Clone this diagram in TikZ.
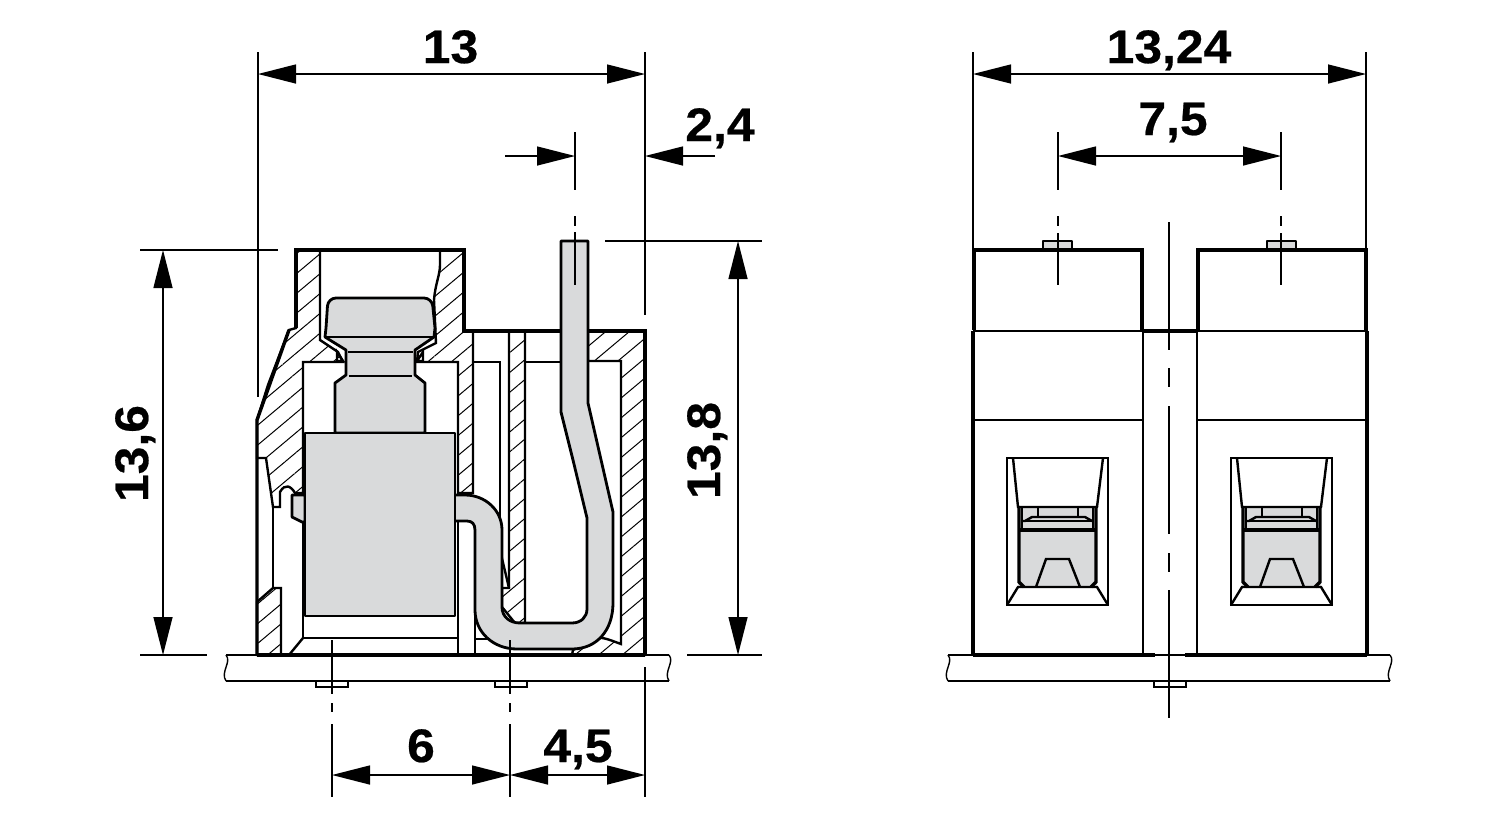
\documentclass[tikz,border=0pt]{standalone}
\usepackage{fontspec}
\setmainfont{Liberation Sans}[BoldFeatures={FakeStretch=1.06,FakeBold=0.5}]
\usetikzlibrary{arrows.meta,patterns.meta}
\definecolor{partgray}{HTML}{D9DADB}
\begin{document}
\begin{tikzpicture}[
          x=0.5pt, y=-0.5pt,
          wall-ln/.style = {line width=1.7pt, line join=miter},
          mid-ln/.style = {line width=1.2pt},
          thin-ln/.style = {line width=0.7pt},
          dim-ln/.style = {line width=0.7pt},
          hatch-area/.style = {pattern={Lines[angle=40,distance=7.6pt,line width=0.5pt]}, pattern color=black},
          gray-part/.style = {fill=partgray, draw=black, line width=1.4pt, line join=round},
          dim-arr/.style = {dim-ln, {Triangle[length=19pt,width=9.5pt]}-{Triangle[length=19pt,width=9.5pt]}},
          size-lbl/.style = {font=\fontsize{23.5}{23.5}\selectfont\bfseries, inner sep=0pt, anchor=base}
        ]
          \useasboundingbox (0,0) rectangle (1500,820);

          % left view: housing
          \draw[hatch-area, mid-ln] (296,250) -- (320,250) -- (320,340) -- (338,352) -- (343,362) -- (303,362) -- (303,493) -- (295,493) .. controls (291,486) and (285,483) .. (280,492) -- (280,507) -- (273,507) -- (266,458) -- (257,458) -- (257,420) -- (268,385) -- (289,330) -- (296,328) -- cycle;
          \draw[hatch-area, mid-ln] (440,250) -- (464,250) -- (464,331) -- (473,331) -- (473,493) -- (458,493) -- (458,362) -- (417,362) -- (418,352) -- (436,343) -- (434,300) .. controls (435,285) and (440,275) .. (440,265) -- cycle;
          \draw[hatch-area, mid-ln] (509,331) -- (525,331) -- (525,623) -- (515,623) -- (502,607) -- (502,588) -- (509,588) -- cycle;
          \draw[hatch-area, mid-ln] (588,361) -- (621,361) -- (621,644) .. controls (610,640) and (603,637) .. (597,638) -- (573,650) -- (572,655) -- (645,655) -- (645,331) -- (588,331) -- cycle;
          \draw[hatch-area, mid-ln] (257,602) -- (273,588) -- (281,588) -- (281,655) -- (257,655) -- cycle;

          \draw[wall-ln] (296,328) -- (296,250) -- (464,250) -- (464,331) -- (645,331) -- (645,655);
          \draw[wall-ln] (289,330) -- (257,420) -- (257,655);
          \draw[mid-ln] (273,507) -- (273,588);
          \draw[mid-ln] (303,493) -- (303,638) -- (458,638);
          \draw[mid-ln] (303,638) -- (289,655);
          \draw[mid-ln] (458,493) -- (458,655);
          \draw[mid-ln] (475,530) -- (475,655);
          \draw[mid-ln] (475,639) -- (493,639);
          \draw[mid-ln] (473,362) -- (500,362) -- (500,575);
          \draw[mid-ln] (500,550) -- (509,588);
          \draw[mid-ln] (525,362) -- (561,362);
          \draw[mid-ln] (337,352) -- (343,361) -- (337,361) -- cycle;
          \draw[mid-ln] (423,352) -- (417,361) -- (423,361) -- cycle;

          % left view: plate
          \draw[mid-ln] (226,655) -- (669,655);
          \draw[wall-ln] (257,655) -- (645,655);
          \draw[mid-ln] (226,681) -- (669,681);
          \draw[thin-ln] (226,655) .. controls (232,662) and (220,672) .. (226,681);
          \draw[thin-ln] (669,655) .. controls (675,662) and (663,672) .. (669,681);
          \draw[mid-ln] (316,681) -- (316,687) -- (348,687) -- (348,681);
          \draw[mid-ln] (495,681) -- (495,687) -- (527,687) -- (527,681);

          % left view: gray parts
          \draw[gray-part] (335,433) -- (335,383) -- (346,375) -- (346,350) -- (325,337) -- (326,328) [rounded corners=4pt] -- (328,298) -- (432,298) [sharp corners] -- (435,328) -- (434,337) -- (415,350) -- (415,375) -- (425,383) -- (425,433) -- cycle;
          \draw[mid-ln] (326,337) -- (434,337);
          \draw[thin-ln] (348,352) -- (413,352);
          \draw[thin-ln] (349,376) -- (412,376);
          \draw[gray-part] (292,495) -- (305,495) -- (305,522) -- (302,522) -- (292,517) -- cycle;
          \draw[gray-part] (455,495) -- (465,495) .. controls (485,495) and (502,510) .. (502,530) -- (502,607) .. controls (502,617) and (510,623) .. (520,623) -- (572,623) .. controls (581,623) and (587,617) .. (587,609) -- (587,518) -- (573,460) -- (561,412) -- (561,241) -- (588,241) -- (588,403) -- (613,512) -- (613,603) .. controls (613,630) and (597,649) .. (572,649) -- (517,649) .. controls (493,649) and (475,632) .. (475,610) -- (475,530) .. controls (475,524) and (472,521) .. (467,521) -- (455,521);
          \draw[gray-part] (305,433) rectangle (455,616);

          % left view: sizes
          \coordinate (w-a) at (258,74);
          \coordinate (w-b) at (645,74);
          \coordinate (w-a-up) at (258,52);
          \coordinate (w-a-dn) at (258,397);
          \coordinate (w-b-up) at (645,52);
          \coordinate (w-b-dn) at (645,315);
          \draw[dim-arr] (w-a) -- (w-b);
          \draw[dim-ln] (w-a-up) -- (w-a-dn);
          \draw[dim-ln] (w-b-up) -- (w-b-dn);
          \node[size-lbl] (lbl-w) at (450.5,63) {13};

          \coordinate (pin-a) at (575,156);
          \coordinate (pin-b) at (645,156);
          \coordinate (pin-a-out) at (505,156);
          \coordinate (pin-b-out) at (715,156);
          \draw[dim-ln, -{Triangle[length=19pt,width=9.5pt]}] (pin-a-out) -- (pin-a);
          \draw[dim-ln, -{Triangle[length=19pt,width=9.5pt]}] (pin-b-out) -- (pin-b);
          \coordinate (pin-c1) at (575,132);
          \coordinate (pin-c2) at (575,190);
          \coordinate (pin-c3) at (575,216);
          \coordinate (pin-c4) at (575,226);
          \coordinate (pin-c5) at (575,232);
          \coordinate (pin-c6) at (575,285);
          \draw[dim-ln] (pin-c1) -- (pin-c2);
          \draw[dim-ln] (pin-c3) -- (pin-c4);
          \draw[dim-ln] (pin-c5) -- (pin-c6);
          \node[size-lbl] (lbl-pin) at (720,141) {2,4};

          \coordinate (ha-a) at (163,250);
          \coordinate (ha-b) at (163,655);
          \coordinate (ha-a-l) at (140,250);
          \coordinate (ha-a-r) at (278,250);
          \coordinate (ha-b-l) at (140,655);
          \coordinate (ha-b-r) at (207,655);
          \draw[dim-arr] (ha-a) -- (ha-b);
          \draw[dim-ln] (ha-a-l) -- (ha-a-r);
          \draw[dim-ln] (ha-b-l) -- (ha-b-r);
          \node[size-lbl, rotate=90] (lbl-ha) at (148,453.5) {13,6};

          \coordinate (hb-a) at (738,241);
          \coordinate (hb-b) at (738,655);
          \coordinate (hb-a-l) at (605,241);
          \coordinate (hb-a-r) at (762,241);
          \coordinate (hb-b-l) at (687,655);
          \coordinate (hb-b-r) at (762,655);
          \draw[dim-arr] (hb-a) -- (hb-b);
          \draw[dim-ln] (hb-a-l) -- (hb-a-r);
          \draw[dim-ln] (hb-b-l) -- (hb-b-r);
          \node[size-lbl, rotate=90] (lbl-hb) at (720,450.5) {13,8};

          \coordinate (b-a) at (332,775);
          \coordinate (b-b) at (510,775);
          \coordinate (b-c) at (645,775);
          \draw[dim-arr] (b-a) -- (b-b);
          \draw[dim-arr] (b-b) -- (b-c);
          \foreach \xp in {332,510} {
            \draw[dim-ln] (\xp,640) -- (\xp,694);
            \draw[dim-ln] (\xp,703) -- (\xp,712);
            \draw[dim-ln] (\xp,724) -- (\xp,797);
          }
          \draw[dim-ln] (645,667) -- (645,797);
          \node[size-lbl] (lbl-six) at (421,762) {6};
          \node[size-lbl] (lbl-four) at (578,762) {4,5};

          % right view
          \draw[mid-ln] (948,655) -- (1390,655);
          \draw[wall-ln] (973,655) -- (1155,655);
          \draw[wall-ln] (1185,655) -- (1367,655);
          \draw[mid-ln] (948,681) -- (1390,681);
          \draw[thin-ln] (948,655) .. controls (954,662) and (942,672) .. (948,681);
          \draw[thin-ln] (1390,655) .. controls (1396,662) and (1384,672) .. (1390,681);
          \draw[mid-ln] (1154,681) -- (1154,687) -- (1186,687) -- (1186,681);
          \draw[mid-ln] (973,331) -- (1367,331);
          \draw[wall-ln] (1143,331) -- (1197,331);
          \draw[wall-ln] (973,331) -- (973,655);
          \draw[wall-ln] (1367,331) -- (1367,655);
          \draw[mid-ln] (1143,331) -- (1143,655);
          \draw[mid-ln] (1197,331) -- (1197,655);
          \foreach \dx in {0,224} {
            \begin{scope}[shift={(\dx,0)}]
              \draw[gray-part, mid-ln] (1043,250) -- (1043,241) -- (1072,241) -- (1072,250);
              \draw[wall-ln] (974,330) -- (974,250) -- (1142,250) -- (1142,331);
              \draw[mid-ln] (973,420) -- (1143,420);
              \draw[gray-part, draw=none] (1018,507) rectangle (1097,587);
              \draw[mid-ln] (1007,458) rectangle (1108,605);
              \draw[mid-ln] (1013,458) -- (1018,507) -- (1097,507) -- (1103,458);
              \draw[mid-ln] (1007,605) -- (1018,587) -- (1097,587) -- (1108,605);
              \draw[wall-ln] (1019,507) -- (1019,582) -- (1024,587);
              \draw[wall-ln] (1096,507) -- (1096,582) -- (1091,587);
              \draw[mid-ln] (1022,507) -- (1022,530);
              \draw[mid-ln] (1093,507) -- (1093,530);
              \draw[wall-ln] (1020,530) -- (1096,530);
              \draw[mid-ln] (1022,521) -- (1025,521) -- (1032,517) -- (1085,517) -- (1092,521) -- (1093,521);
              \draw[mid-ln] (1025,521) -- (1092,521);
              \draw[mid-ln] (1038,507) -- (1038,517);
              \draw[mid-ln] (1078,507) -- (1078,517);
              \draw[mid-ln] (1036,587) -- (1046,559) -- (1069,559) -- (1080,587);
            \end{scope}
          }

          % right view: sizes
          \coordinate (tot-a) at (973,74);
          \coordinate (tot-b) at (1366,74);
          \coordinate (tot-a-up) at (973,52);
          \coordinate (tot-a-dn) at (973,250);
          \coordinate (tot-b-up) at (1366,52);
          \coordinate (tot-b-dn) at (1366,250);
          \draw[dim-arr] (tot-a) -- (tot-b);
          \draw[dim-ln] (tot-a-up) -- (tot-a-dn);
          \draw[dim-ln] (tot-b-up) -- (tot-b-dn);
          \node[size-lbl] (lbl-tot) at (1169,63) {13,24};

          \coordinate (gap-a) at (1058,156);
          \coordinate (gap-b) at (1281,156);
          \draw[dim-arr] (gap-a) -- (gap-b);
          \foreach \xp in {1058,1281} {
            \draw[dim-ln] (\xp,132) -- (\xp,190);
            \draw[dim-ln] (\xp,216) -- (\xp,226);
            \draw[dim-ln] (\xp,233) -- (\xp,285);
          }
          \node[size-lbl] (lbl-gap) at (1173,135) {7,5};

          \draw[dim-ln] (1169,222) -- (1169,350);
          \draw[dim-ln] (1169,368) -- (1169,387);
          \draw[dim-ln] (1169,406) -- (1169,534);
          \draw[dim-ln] (1169,553) -- (1169,572);
          \draw[dim-ln] (1169,590) -- (1169,718);
        \end{tikzpicture}
\end{document}
